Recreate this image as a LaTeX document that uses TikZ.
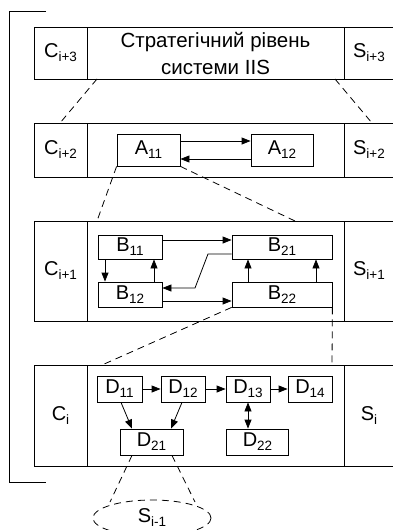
\documentclass[tikz,border=0pt]{standalone}
\usepackage{fontspec}
\setmainfont{Liberation Sans}
\usetikzlibrary{arrows.meta,shapes.geometric}
\newcommand\lsub[1]{\raisebox{-0.2em}{\fontsize{13.5}{14}\selectfont #1}}
\begin{document}
\begin{tikzpicture}[x=1pt,y=-1pt,
  line width=0.8pt,
  cell/.style={draw,inner sep=0pt,font=\fontsize{20}{24}\selectfont,align=center},
  arr/.style={-{Triangle[length=9pt,width=7pt]}},
  darr/.style={{Triangle[length=9pt,width=7pt]}-{Triangle[length=9pt,width=7pt]}},
  dsh/.style={dashed,dash pattern=on 7pt off 5pt}]
\useasboundingbox (0,0) rectangle (392,530);
% bracket
\coordinate (bt) at (46,11);
\coordinate (bb) at (46,482);
\draw (bt) -- (9,11) -- (9,482) -- (bb);
% level 1
\node[cell,minimum width=53pt,minimum height=52pt] (C3) at (60.5,53) {C\lsub{i+3}};
\node[cell,minimum width=257pt,minimum height=52pt,font=\fontsize{20.5}{27}\selectfont] (M3) at (215.5,53) {Стратегічний рівень\\системи IIS};
\node[cell,minimum width=50pt,minimum height=52pt] (S3) at (369,53) {S\lsub{i+3}};
% level 2
\node[cell,minimum width=53pt,minimum height=54pt] (C2) at (60.5,150) {C\lsub{i+2}};
\node[cell,minimum width=257pt,minimum height=54pt] (M2) at (215.5,150) {};
\node[cell,minimum width=50pt,minimum height=54pt] (S2) at (369,150) {S\lsub{i+2}};
\node[cell,minimum width=63pt,minimum height=32pt] (A11) at (148.5,150) {A\lsub{11}};
\node[cell,minimum width=62pt,minimum height=32pt] (A12) at (282,150) {A\lsub{12}};
\draw[arr] ([yshift=9pt]A11.east) -- ([yshift=9pt]A12.west);
\draw[arr] ([yshift=-9pt]A12.west) -- ([yshift=-9pt]A11.east);
% level 3
\node[cell,minimum width=53pt,minimum height=100pt] (C1) at (60.5,271) {C\lsub{i+1}};
\node[cell,minimum width=257pt,minimum height=100pt] (M1) at (215.5,271) {};
\node[cell,minimum width=50pt,minimum height=100pt] (S1) at (369,271) {S\lsub{i+1}};
\node[cell,minimum width=64pt,minimum height=24pt] (B11) at (130,247) {B\lsub{11}};
\node[cell,minimum width=64pt,minimum height=25pt] (B12) at (130,294.5) {B\lsub{12}};
\node[cell,minimum width=100pt,minimum height=24pt] (B21) at (282,247) {B\lsub{21}};
\node[cell,minimum width=100pt,minimum height=25pt] (B22) at (282,294.5) {B\lsub{22}};
\draw[arr] ([yshift=7pt]B11.east) -- ([yshift=7pt]B21.west);
\draw[arr] ([yshift=-6.5pt]B12.east) -- ([yshift=-6.5pt]B22.west);
\draw[arr] ([xshift=-25pt]B11.south) -- ([xshift=-25pt]B12.north);
\draw[arr] ([xshift=24pt]B12.north) -- ([xshift=24pt]B11.south);
\draw[arr] ([xshift=-34pt]B22.north) -- ([xshift=-34pt]B21.south);
\draw[arr] ([xshift=34pt]B22.north) -- ([xshift=34pt]B21.south);
\coordinate (k1) at (208,254);
\coordinate (k2) at (195,288);
\draw[arr] ([yshift=-7pt]B21.west) -- (k1) -- (k2) -- ([yshift=6.5pt]B12.east);
% level 4
\node[cell,minimum width=53pt,minimum height=101pt] (C0) at (60.5,415.5) {C\lsub{i}};
\node[cell,minimum width=257pt,minimum height=101pt] (M0) at (215.5,415.5) {};
\node[cell,minimum width=50pt,minimum height=101pt] (S0) at (369,415.5) {S\lsub{i}};
\node[cell,minimum width=45pt,minimum height=26pt] (D11) at (119.5,389) {D\lsub{11}};
\node[cell,minimum width=44pt,minimum height=26pt] (D12) at (183,389) {D\lsub{12}};
\node[cell,minimum width=44pt,minimum height=26pt] (D13) at (248,389) {D\lsub{13}};
\node[cell,minimum width=44pt,minimum height=26pt] (D14) at (310,389) {D\lsub{14}};
\node[cell,minimum width=63pt,minimum height=26pt] (D21) at (151.5,442) {D\lsub{21}};
\node[cell,minimum width=62pt,minimum height=26pt] (D22) at (257.5,442) {D\lsub{22}};
\draw[arr] (D11) -- (D12);
\draw[arr] (D12) -- (D13);
\draw[arr] (D13) -- (D14);
\draw[arr] ([xshift=1.5pt]D11.south) -- ([xshift=-19.5pt]D21.north);
\draw[arr] ([xshift=-1pt]D12.south) -- ([xshift=19.5pt]D21.north);
\draw[darr] (D13.south) -- (D13.south |- D22.north);
% ellipse
\node[draw,dsh,ellipse,minimum width=118pt,minimum height=36pt,inner sep=0pt,font=\fontsize{20}{24}\selectfont] (Sm) at (152,518) {S\lsub{i-1}};
% dashed projection lines
\coordinate (p1) at (97,79);  \coordinate (q1) at (60,123);
\coordinate (p2) at (335,79); \coordinate (q2) at (372,123);
\draw[dsh] (p1) -- (q1);
\draw[dsh] (p2) -- (q2);
\coordinate (q3) at (97,221); \coordinate (q4) at (295,221);
\draw[dsh] (A11.south west) -- (q3);
\draw[dsh] (A11.south east) -- (q4);
\coordinate (q5) at (102,365); \coordinate (q6) at (332,365);
\draw[dsh] (B22.south west) -- (q5);
\draw[dsh] (B22.south east) -- (q6);
\coordinate (q7) at (110,502); \coordinate (q8) at (195,502);
\draw[dsh] ([xshift=-19.5pt]D21.south) -- (q7);
\draw[dsh] ([xshift=20.5pt]D21.south) -- (q8);
\end{tikzpicture}
\end{document}
